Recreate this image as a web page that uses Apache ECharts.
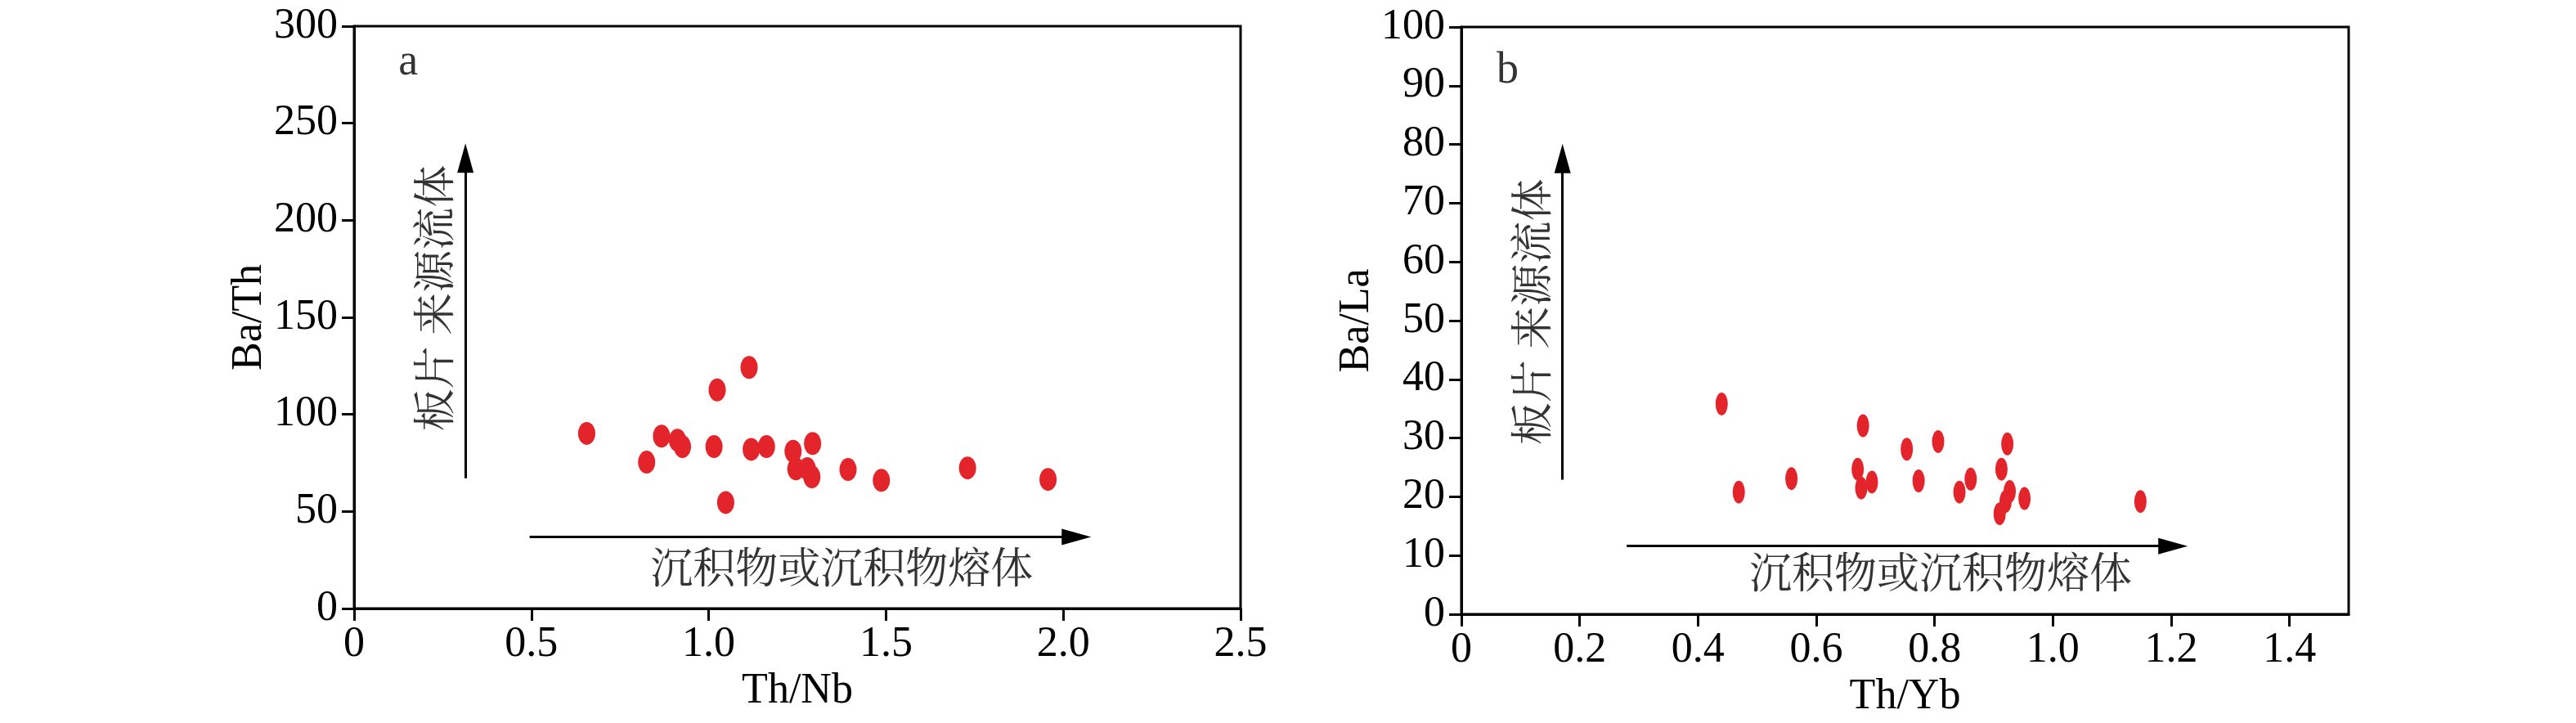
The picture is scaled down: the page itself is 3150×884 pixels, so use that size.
<!DOCTYPE html>
<html><head><meta charset="utf-8">
<script src="https://cdn.jsdelivr.net/npm/echarts@6/dist/echarts.min.js"></script>
<style>html,body{margin:0;padding:0;background:#fff}#c{width:3150px;height:884px}</style>
</head><body><div id="c"></div>
<script>
// ---- data: panel a (Th/Nb vs Ba/Th)
const thNb = [0.656, 0.825, 0.867, 0.912, 0.926, 1.015, 1.024, 1.048, 1.114, 1.120, 1.163, 1.238, 1.293, 1.246, 1.278, 1.291, 1.393, 1.487, 1.730, 1.957];
const baTh = [90.2, 75.4, 88.8, 86.7, 83.4, 83.4, 112.6, 54.6, 124.2, 82.0, 83.4, 81.0, 85.0, 71.9, 72.0, 67.8, 71.6, 66.0, 72.4, 66.5];
// ---- data: panel b (Th/Yb vs Ba/La)
const thYb = [0.440, 0.469, 0.558, 0.679, 0.670, 0.676, 0.694, 0.753, 0.773, 0.806, 0.842, 0.861, 0.923, 0.913, 0.927, 0.920, 0.910, 0.952, 1.148];
const baLa = [35.8, 20.8, 23.1, 32.1, 24.7, 21.5, 22.5, 28.1, 22.7, 29.4, 20.8, 23.0, 29.0, 24.7, 20.9, 19.2, 17.1, 19.7, 19.2];
// ---- tick labels
const xTicksA = [0, 0.5, 1.0, 1.5, 2.0, 2.5];
const yTicksA = [0, 50, 100, 150, 200, 250, 300];
const xTicksB = [0, 0.2, 0.4, 0.6, 0.8, 1.0, 1.2, 1.4];
const yTicksB = [0, 10, 20, 30, 40, 50, 60, 70, 80, 90, 100];
// ---- texts
const panelLabels = ['a', 'b'];
const axisNames = [['Th/Nb', 'Ba/Th'], ['Th/Yb', 'Ba/La']];
const textUp = '板片 来源流体';
const textRight = '沉积物或沉积物熔体';

const SERIF = "'Liberation Serif','Times New Roman',serif";
const CJK = "'Noto Serif CJK SC','Noto Sans CJK SC',serif";
const RED = '#E3242B';
const FS = 52;

const ellipse = 'path://M0,-1 A1,1 0 1,1 0,1 A1,1 0 1,1 0,-1 Z';
const fmtX = v => v === 0 ? '0' : v.toFixed(1);

function xAxis(idx, max, ticks, name, gap) {
  return {
    type: 'value', gridIndex: idx, min: 0, max: max, name: name,
    nameLocation: 'middle', nameGap: gap,
    nameTextStyle: { fontFamily: SERIF, fontSize: FS, color: '#000' },
    splitLine: { show: false },
    axisLine: { show: true, onZero: false, lineStyle: { color: '#000', width: 3 } },
    axisTick: { show: true, length: 15, lineStyle: { color: '#000', width: 3 }, customValues: ticks },
    axisLabel: { customValues: ticks, formatter: fmtX, fontFamily: SERIF, fontSize: FS, color: '#000', margin: 18 }
  };
}
function yAxis(idx, max, ticks, name, gap) {
  return {
    type: 'value', gridIndex: idx, min: 0, max: max, name: name,
    nameLocation: 'middle', nameGap: gap, nameRotate: 90,
    nameTextStyle: { fontFamily: SERIF, fontSize: FS, color: '#000' },
    splitLine: { show: false },
    axisLine: { show: true, onZero: false, lineStyle: { color: '#000', width: 3 } },
    axisTick: { show: true, length: 15, lineStyle: { color: '#000', width: 3 }, customValues: ticks },
    axisLabel: { customValues: ticks, formatter: v => String(v), fontFamily: SERIF, fontSize: FS, color: '#000', margin: 20 }
  };
}
function arrowLines(lines) {
  return {
    silent: true, symbol: ['none', 'triangle'], symbolSize: [20, 36],
    label: { show: false }, emphasis: { disabled: true },
    lineStyle: { color: '#000', width: 3, type: 'solid' },
    itemStyle: { color: '#000' },
    data: lines.map(l => [{ coord: l[0] }, { coord: l[1] }])
  };
}
function textSeries(idx, items) {
  return {
    type: 'scatter', xAxisIndex: idx, yAxisIndex: idx, silent: true,
    symbolSize: 1, itemStyle: { color: 'rgba(0,0,0,0)' }, z: 5,
    data: items.map(t => ({
      value: t.pos,
      label: { show: true, position: 'inside', formatter: t.text, rotate: t.rot || 0,
        fontFamily: t.font, fontSize: t.size, color: '#000' }
    }))
  };
}

const chart = echarts.init(document.getElementById('c'), null, { renderer: 'canvas' });
chart.setOption({
  backgroundColor: '#fff',
  animation: false,
  grid: [
    { left: 433, top: 32, width: 1084, height: 712, show: true, borderColor: '#000', borderWidth: 3, containLabel: false },
    { left: 1787, top: 33, width: 1085, height: 718, show: true, borderColor: '#000', borderWidth: 3, containLabel: false }
  ],
  xAxis: [
    xAxis(0, 2.5, xTicksA, axisNames[0][0], 71),
    xAxis(1, 1.5, xTicksB, axisNames[1][0], 74)
  ],
  yAxis: [
    yAxis(0, 300, yTicksA, axisNames[0][1], 100),
    yAxis(1, 100, yTicksB, axisNames[1][1], 96)
  ],
  series: [
    {
      type: 'scatter', xAxisIndex: 0, yAxisIndex: 0, symbol: ellipse, symbolSize: [21, 28],
      itemStyle: { color: RED, opacity: 1 },
      data: thNb.map((x, i) => [x, baTh[i]]),
      markLine: arrowLines([[[0.314, 67.1], [0.314, 232.1]], [[0.495, 36.9], [2.037, 36.9]]])
    },
    {
      type: 'scatter', xAxisIndex: 1, yAxisIndex: 1, symbol: ellipse, symbolSize: [15, 28],
      itemStyle: { color: RED, opacity: 1 },
      data: thYb.map((x, i) => [x, baLa[i]]),
      markLine: arrowLines([[[0.171, 22.9], [0.171, 77.6]], [[0.2796, 11.6], [1.203, 11.6]]])
    },
    textSeries(0, [
      { pos: [0.153, 281], text: panelLabels[0], font: SERIF, size: 54 },
      { pos: [1.375, 21.2], text: textRight, font: CJK, size: 52 },
      { pos: [0.224, 159.9], text: textUp, font: CJK, size: 52, rot: 90 }
    ]),
    textSeries(1, [
      { pos: [0.078, 92.5], text: panelLabels[1], font: SERIF, size: 54 },
      { pos: [0.81, 7.2], text: textRight, font: CJK, size: 52 },
      { pos: [0.118, 51.5], text: textUp, font: CJK, size: 52, rot: 90 }
    ])
  ]
});
</script>
</body></html>
